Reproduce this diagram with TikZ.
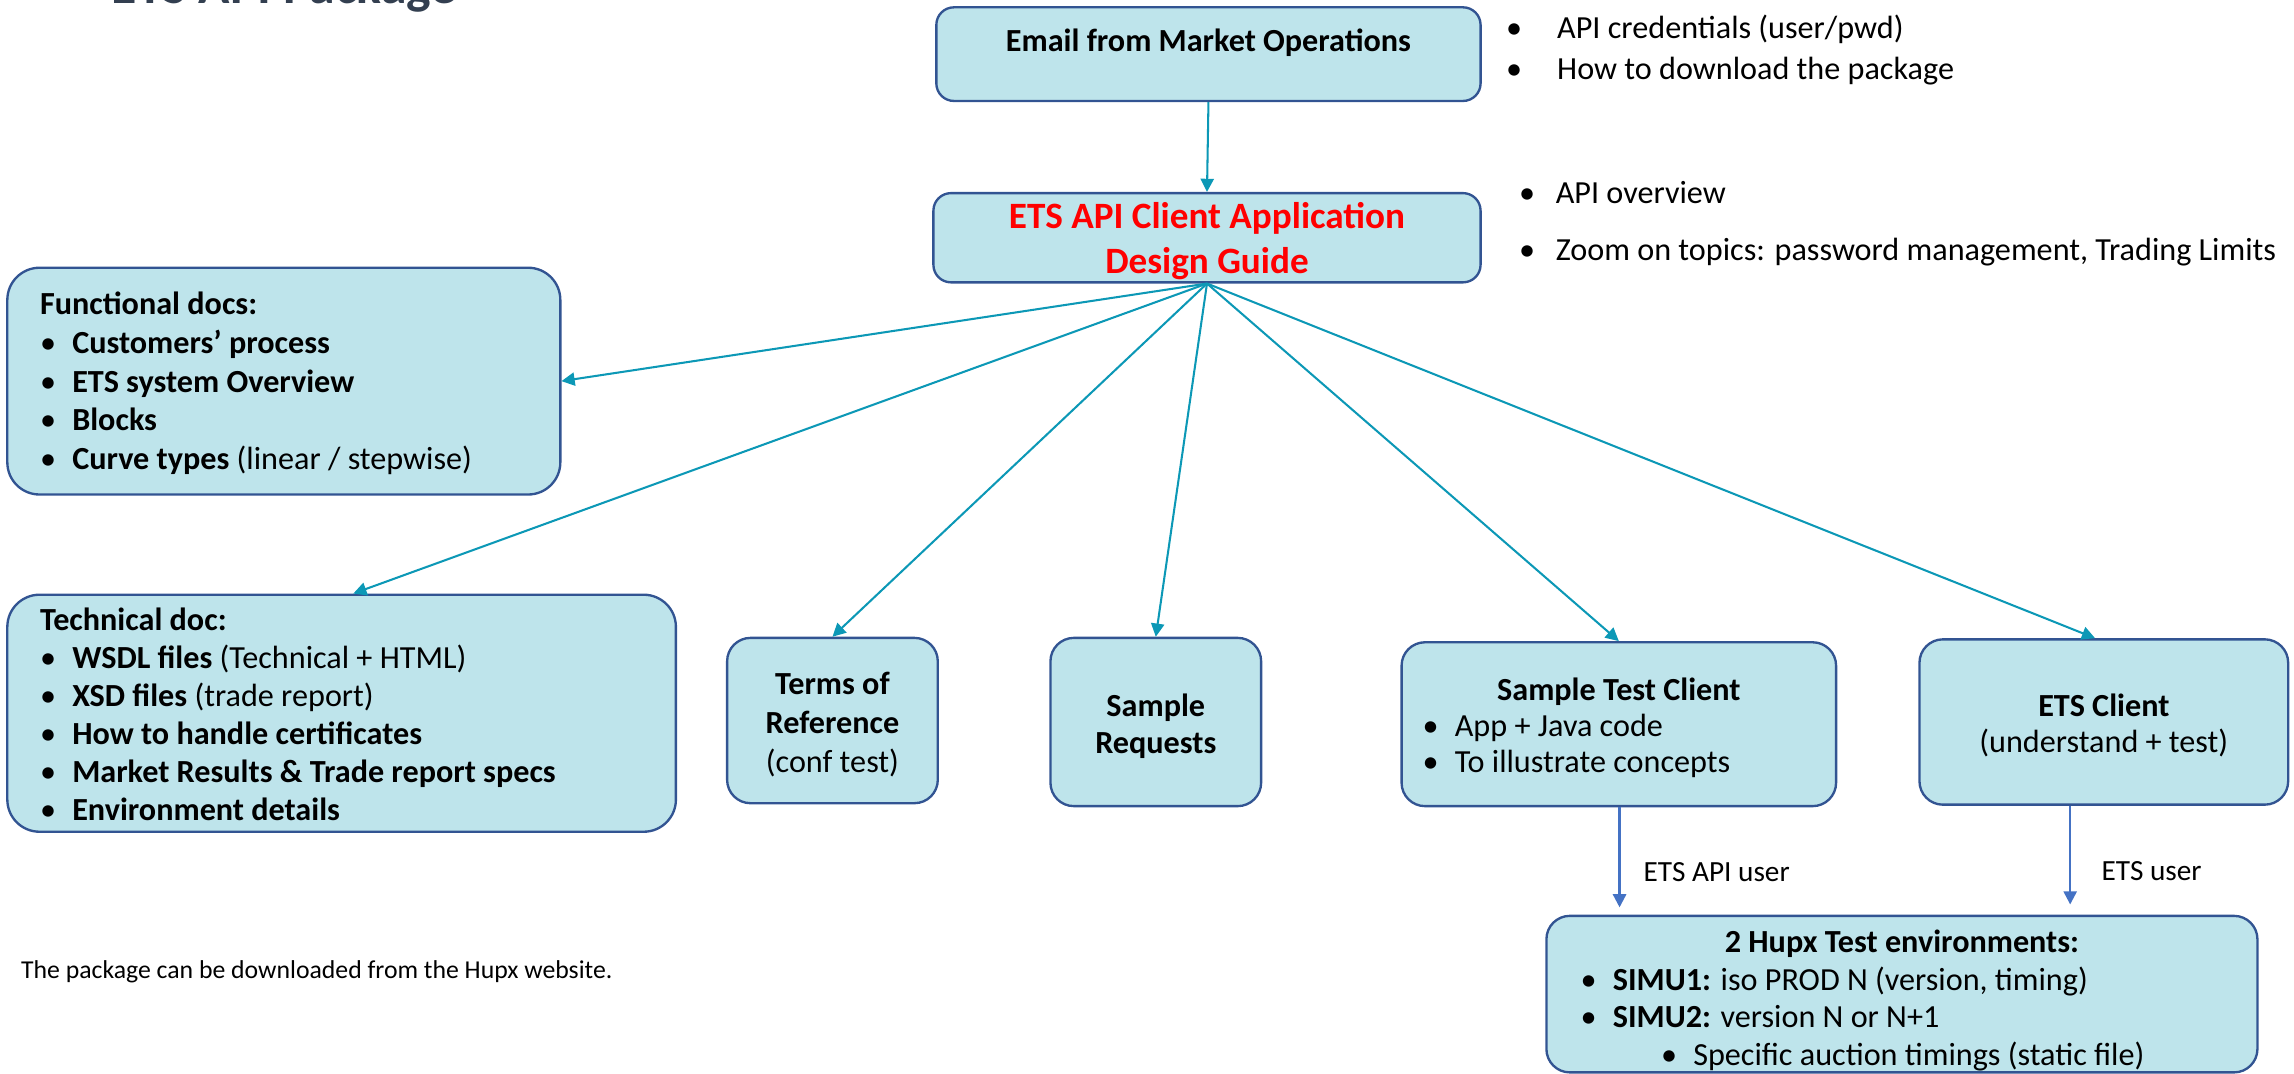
\documentclass[tikz,border=0pt]{standalone}
\usepackage{fontspec}
\setmainfont{Carlito}
\usetikzlibrary{arrows.meta,calc}
\definecolor{boxfill}{RGB}{190,228,235}
\definecolor{boxline}{RGB}{50,84,146}
\definecolor{fanline}{RGB}{12,152,182}
\definecolor{downline}{RGB}{68,114,196}
\definecolor{titlecol}{RGB}{51,63,80}
\newcommand\bul{\makebox[11pt][l]{•}}
\newcommand\sbul{\makebox[17.5pt][l]{•}}
\newcommand\gbul{\makebox[12.5pt][l]{•}}
\begin{document}
\begin{tikzpicture}[x=0.5pt,y=-0.5pt,
  font=\fontsize{11}{13.25}\selectfont,
  box/.style={draw=boxline, fill=boxfill, line width=0.8pt, rounded corners=#1, inner sep=0pt},
  box/.default=8pt,
  fan/.style={draw=fanline, line width=0.7pt, -{Triangle[length=4.5pt,width=4.5pt]}},
  down/.style={draw=downline, line width=0.8pt, -{Triangle[length=4.5pt,width=4.5pt]}},
  txt/.style={inner sep=0pt, align=left, anchor=base west},
  ctxt/.style={inner sep=0pt, align=center, anchor=base}]
\useasboundingbox (0,0) rectangle (1568,734);

% title (cut at top)
\node[inner sep=0pt, anchor=base west, text=titlecol, font=\fontsize{17.7}{20}\selectfont\bfseries] (title) at (76,2.5) {ETS API Package};

% boxes
\node[box=6pt, minimum width=186pt, minimum height=32pt] (email) at (826,37) {};
\node[box=6pt, minimum width=187pt, minimum height=30.5pt] (guide) at (825,162.5) {};
\node[box=11pt, minimum width=189pt, minimum height=77.5pt] (func) at (194,260.5) {};
\node[box=11pt, minimum width=228.5pt, minimum height=81pt] (tech) at (233.5,487.5) {};
\node[box, minimum width=72pt, minimum height=56.5pt] (terms) at (569,492.5) {};
\node[box, minimum width=72pt, minimum height=57.5pt] (samp) at (790,493.5) {};
\node[box, minimum width=148.5pt, minimum height=56pt] (stc) at (1106.5,495) {};
\node[box, minimum width=126pt, minimum height=56.5pt] (etsc) at (1438,493.5) {};
\node[box, minimum width=243pt, minimum height=53.5pt] (hupx) at (1300,679.5) {};

% box texts (anchor base = baseline of the last line)
\node[ctxt, font=\fontsize{11}{13.25}\selectfont\bfseries] (emailtxt) at (826,35) {Email from Market Operations};
\node[ctxt, text=red, font=\fontsize{12.7}{15.5}\selectfont\bfseries] (guidetxt) at (825,187) {ETS API Client Application\\Design Guide};
\node[txt] (functxt) at (27,321) {\textbf{Functional docs:}\\
\bul\textbf{Customers’ process}\\
\bul\textbf{ETS system Overview}\\
\bul\textbf{Blocks}\\
\bul\textbf{Curve types} (linear / stepwise)};
\node[txt, font=\fontsize{11}{13}\selectfont] (techtxt) at (27,561) {\textbf{Technical doc:}\\
\bul\textbf{WSDL files} (Technical + HTML)\\
\bul\textbf{XSD files} (trade report)\\
\bul\textbf{How to handle certificates}\\
\bul\textbf{Market Results \& Trade report specs}\\
\bul\textbf{Environment details}};
\node[ctxt] (termstxt) at (569,528) {\textbf{Terms of}\\\textbf{Reference}\\(conf test)};
\node[ctxt, font=\fontsize{11}{12.5}\selectfont\bfseries] (samptxt) at (790,515) {Sample\\Requests};
\node[ctxt, font=\fontsize{11}{12.5}\selectfont\bfseries] (stctitle) at (1106.5,479) {Sample Test Client};
\node[txt, font=\fontsize{11}{12.2}\selectfont] (stctxt) at (972,528) {\bul App + Java code\\\bul To illustrate concepts};
\node[ctxt, font=\fontsize{11}{12.2}\selectfont] (etsctxt) at (1438,514) {\textbf{ETS Client}\\(understand + test)};
\node[ctxt, font=\fontsize{11}{12.75}\selectfont\bfseries] (hupxtitle) at (1300,651) {2 Hupx Test environments:};
\node[txt, font=\fontsize{11}{12.75}\selectfont] (hupxtxt) at (1080,728) {\bul\textbf{SIMU1:} iso PROD N (version, timing)\\
\bul\textbf{SIMU2:} version N or N+1\\
\hspace*{27.5pt}\bul Specific auction timings (static file)};

% side notes
\node[txt, font=\fontsize{11}{14}\selectfont] (note1) at (1029,54) {\sbul API credentials (user/pwd)\\\sbul How to download the package};
\node[txt, font=\fontsize{11}{19.5}\selectfont] (note2) at (1038,178) {\gbul API overview\\\gbul Zoom on topics: password management, Trading Limits};
\node[txt, font=\fontsize{8.8}{10.5}\selectfont] (footer) at (14,669) {The package can be downloaded from the Hupx website.};

% connectors
\draw[fan] (email.south) -- (guide.north);
\draw[fan] (guide.south) -- (func.east);
\draw[fan] (guide.south) -- ($(tech.north)+(8,0)$);
\draw[fan] (guide.south) -- (terms.north);
\draw[fan] (guide.south) -- (samp.north);
\draw[fan] (guide.south) -- (stc.north);
\draw[fan] (guide.south) -- ($(etsc.north)+(-6,0)$);

\coordinate (d1) at ($(stc.south)+(0.5,0)$);
\coordinate (d2) at ($(etsc.south)+(-23,0)$);
\draw[down, shorten >=2.5pt] (d1) -- (d1 |- hupx.north) node[pos=0.6, right=4.5pt, font=\fontsize{10}{12}\selectfont, text=black] (lab1) {ETS API user};
\draw[down, shorten >=3.5pt] (d2) -- (d2 |- hupx.north) node[pos=0.6, right=7pt, font=\fontsize{10}{12}\selectfont, text=black] (lab2) {ETS user};
\end{tikzpicture}
\end{document}
